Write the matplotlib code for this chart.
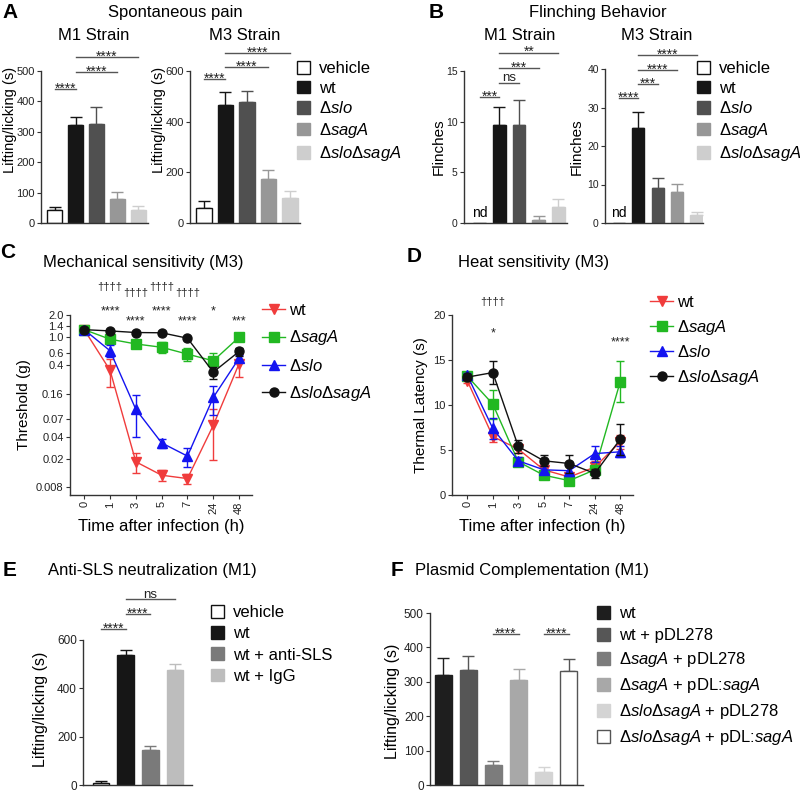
import numpy as np
import matplotlib
matplotlib.use("Agg")
import matplotlib.pyplot as plt
from matplotlib.patches import Patch
from matplotlib.lines import Line2D
from matplotlib.transforms import blended_transform_factory

plt.rcParams['font.family'] = ['Liberation Sans', 'DejaVu Sans']
plt.rcParams['mathtext.fontset'] = 'custom'
plt.rcParams['mathtext.rm'] = 'Liberation Sans'
plt.rcParams['mathtext.it'] = 'Liberation Sans:italic'
plt.rcParams['mathtext.bf'] = 'Liberation Sans:bold'

# ---- datos ----
strains = ['vehicle', 'wt', r'$\Delta\mathit{slo}$', r'$\Delta\mathit{sagA}$',
           r'$\Delta\mathit{slo}\Delta\mathit{sagA}$']

# A: dolor espontaneo (s)
a_m1_mean = [42, 323, 327, 80, 42]
a_m1_err = [10, 27, 56, 22, 15]
a_m3_mean = [60, 467, 477, 173, 100]
a_m3_err = [25, 51, 45, 37, 27]

# B: flinches
b_m1_mean = [0, 9.7, 9.7, 0.3, 1.6]
b_m1_err = [0, 1.7, 2.4, 0.4, 0.8]
b_m3_mean = [0, 24.7, 9.1, 8.0, 2.0]
b_m3_err = [0, 4.1, 2.6, 2.2, 0.8]

# C / D: series temporales
time_labels = ['0', '1', '3', '5', '7', '24', '48']
series_names = ['wt', r'$\Delta\mathit{sagA}$', r'$\Delta\mathit{slo}$',
                r'$\Delta\mathit{slo}\Delta\mathit{sagA}$']

c_wt = [1.25, 0.34, 0.018, 0.0117, 0.0105, 0.058, 0.42]
c_wt_err = [0.05, 0.14, 0.0055, 0.002, 0.0017, 0.039, 0.15]
c_sagA = [1.25, 0.92, 0.79, 0.71, 0.57, 0.46, 0.98]
c_sagA_err = [0.05, 0.08, 0.07, 0.12, 0.12, 0.14, 0.08]
c_slo = [1.25, 0.635, 0.097, 0.033, 0.0216, 0.142, 0.50]
c_slo_err = [0.05, 0.12, 0.057, 0.005, 0.0065, 0.06, 0.06]
c_dbl = [1.25, 1.2, 1.14, 1.13, 0.95, 0.32, 0.62]
c_dbl_err = [0.05, 0.05, 0.05, 0.05, 0.05, 0.06, 0.08]
c_yticks = [2.0, 1.4, 1.0, 0.6, 0.4, 0.16, 0.07, 0.04, 0.02, 0.008]
c_yticklabels = ['2.0', '1.4', '1.0', '0.6', '0.4', '0.16', '0.07', '0.04', '0.02', '0.008']
c_stars = ['', '****', '****', '****', '****', '*', '***']
c_daggers = ['', '††††', '††††', '††††', '††††', '', '']

d_wt = [12.7, 6.5, 5.1, 2.8, 2.0, 3.1, 5.9]
d_wt_err = [0.3, 0.6, 0.4, 0.4, 0.4, 0.7, 0.8]
d_sagA = [13.2, 10.1, 3.7, 2.2, 1.6, 2.8, 12.6]
d_sagA_err = [0.3, 1.6, 0.4, 0.3, 0.3, 0.4, 2.3]
d_slo = [13.3, 7.4, 3.8, 2.8, 2.7, 4.6, 4.8]
d_slo_err = [0.3, 1.2, 0.4, 0.4, 0.6, 0.9, 0.6]
d_dbl = [13.1, 13.6, 5.4, 3.8, 3.5, 2.4, 6.2]
d_dbl_err = [0.3, 1.3, 0.7, 0.6, 1.0, 0.5, 1.7]
d_stars = ['', '*', '', '', '', '', '****']
d_daggers = ['', '††††', '', '', '', '', '']

# E: anti-SLS
e_labels = ['vehicle', 'wt', 'wt + anti-SLS', 'wt + IgG']
e_mean = [10, 537, 143, 477]
e_err = [8, 20, 19, 23]

# F: complementacion
f_labels = ['wt', 'wt + pDL278', r'$\Delta\mathit{sagA}$ + pDL278',
            r'$\Delta\mathit{sagA}$ + pDL:$\mathit{sagA}$',
            r'$\Delta\mathit{slo}\Delta\mathit{sagA}$ + pDL278',
            r'$\Delta\mathit{slo}\Delta\mathit{sagA}$ + pDL:$\mathit{sagA}$']
f_mean = [320, 333, 58, 304, 37, 331]
f_err = [48, 41, 12, 33, 15, 36]

# comparaciones (i, j, altura, texto)
a_m1_sig = [(0, 1, 441, '****'), (1, 3, 497, '****'), (1, 4, 546, '****')]
a_m3_sig = [(0, 1, 568, '****'), (1, 3, 616, '****'), (1, 4, 671, '****')]
b_m1_sig = [(0, 1, 12.4, '***'), (1, 2, 13.8, 'ns'), (1, 3, 15.3, '***'), (1, 4, 16.8, '**')]
b_m3_sig = [(0, 1, 32.5, '****'), (1, 2, 36.1, '***'), (1, 3, 39.7, '****'), (1, 4, 43.6, '****')]
e_sig = [(0, 1, 644, '****'), (1, 2, 708, '****'), (1, 3, 768, 'ns')]
f_sig = [(2, 3, 438, '****'), (4, 5, 438, '****')]

# colores
col5 = ['white', '#161616', '#505050', '#979797', '#cecece']
edge5 = ['#111111', '#161616', '#505050', '#979797', '#cecece']
col_e = ['white', '#161616', '#7a7a7a', '#bdbdbd']
edge_e = ['#111111', '#161616', '#7a7a7a', '#bdbdbd']
col_f = ['#1e1e1e', '#565656', '#7c7c7c', '#a8a8a8', '#d4d4d4', 'white']
edge_f = ['#1e1e1e', '#565656', '#7c7c7c', '#a8a8a8', '#d4d4d4', '#555555']
line_cols = ['#f03c3c', '#22b822', '#1414f0', '#111111']
line_marks = ['v', 's', '^', 'o']

W, H = 800, 792
fig = plt.figure(figsize=(8, 7.92), dpi=100)


def rect(l, t, r, b):
    return [l / W, 1 - b / H, (r - l) / W, (b - t) / H]


def style(ax, ls=8):
    for s in ['top', 'right']:
        ax.spines[s].set_visible(False)
    for s in ['left', 'bottom']:
        ax.spines[s].set_color('#333333')
        ax.spines[s].set_linewidth(1.0)
    ax.tick_params(direction='out', length=3, width=0.8, labelsize=ls, pad=1.5, colors='#333333',
                   labelcolor='#222222')


def bars(ax, mean, err, cols, edges, width, xlim, ylim, yticks, ls=8):
    x = np.arange(len(mean))
    ax.bar(x, mean, width=width, color=cols, edgecolor=edges, linewidth=1.0, zorder=2)
    for xi, m, e, c in zip(x, mean, err, edges):
        if e > 0:
            ax.errorbar(xi, m, yerr=[[0], [e]], fmt='none', ecolor=c, elinewidth=1.0,
                        capsize=4.5, capthick=1.0, zorder=1)
    ax.set_xlim(*xlim)
    ax.set_ylim(*ylim)
    ax.set_yticks(yticks)
    ax.set_xticks([])
    style(ax, ls)


def sig(ax, comps, fs=10):
    for i, j, y, t in comps:
        ax.plot([i, j], [y, y], color='#555555', lw=1.0, clip_on=False)
        off = 1.2 if t == 'ns' else -2.5
        ax.annotate(t, xy=((i + j) / 2, y), xytext=(0, off), textcoords='offset points',
                    ha='center', va='baseline', fontsize=fs if t != 'ns' else 9.5,
                    color='#222222', annotation_clip=False)


def legend(handles, labels, x, y, spacing, hl=0.8, hh=0.8, pad=0.5):
    fig.legend(handles, labels, loc='upper left', bbox_to_anchor=(x / W, 1 - y / H),
               frameon=False, fontsize=12, handlelength=hl, handleheight=hh,
               handletextpad=pad, labelspacing=spacing, borderpad=0, borderaxespad=0)


def ftext(x, y, s, **kw):
    fig.text(x / W, 1 - y / H, s, **kw)


# ---- A ----
ax = fig.add_axes(rect(41, 71, 148, 223))
bars(ax, a_m1_mean, a_m1_err, col5, edge5, 0.72, (-0.67, 4.48), (0, 500), [0, 100, 200, 300, 400, 500])
sig(ax, a_m1_sig)
ax = fig.add_axes(rect(190, 71, 300, 223))
bars(ax, a_m3_mean, a_m3_err, col5, edge5, 0.72, (-0.65, 4.47), (0, 600), [0, 200, 400, 600])
sig(ax, a_m3_sig)
handles5 = [Patch(facecolor=c, edgecolor=e, linewidth=1.0) for c, e in zip(col5, edge5)]
legend(handles5, strains, 297, 61, 0.27)

ftext(2, 12, 'A', fontsize=15, fontweight='bold', va='center')
ftext(175, 13, 'Spontaneous pain', fontsize=12, ha='center', va='center')
ftext(94, 35, 'M1 Strain', fontsize=12, ha='center', va='center')
ftext(245, 35, 'M3 Strain', fontsize=12, ha='center', va='center')
ftext(10, 120, 'Lifting/licking (s)', fontsize=10.5, rotation=90, ha='center', va='center')
ftext(159, 120, 'Lifting/licking (s)', fontsize=10.5, rotation=90, ha='center', va='center')

# ---- B ----
ax = fig.add_axes(rect(464, 71, 567, 223))
bars(ax, b_m1_mean, b_m1_err, col5, edge5, 0.65, (-0.8, 4.45), (0, 15), [0, 5, 10, 15], ls=7.5)
sig(ax, b_m1_sig)
ax.annotate('nd', xy=(0, 0), xytext=(0, 2), textcoords='offset points', ha='center',
            va='bottom', fontsize=10)
ax = fig.add_axes(rect(605, 69, 703, 223))
bars(ax, b_m3_mean, b_m3_err, col5, edge5, 0.63, (-0.71, 4.33), (0, 40), [0, 10, 20, 30, 40], ls=7.5)
sig(ax, b_m3_sig)
ax.annotate('nd', xy=(0, 0), xytext=(0, 2), textcoords='offset points', ha='center',
            va='bottom', fontsize=10)
legend(handles5, strains, 697, 61, 0.27)

ftext(429, 12, 'B', fontsize=15, fontweight='bold', va='center')
ftext(598, 12, 'Flinching Behavior', fontsize=12, ha='center', va='center')
ftext(520, 35, 'M1 Strain', fontsize=12, ha='center', va='center')
ftext(657, 35, 'M3 Strain', fontsize=12, ha='center', va='center')
ftext(439, 147, 'Flinches', fontsize=11, rotation=90, ha='center', va='center')
ftext(577, 147, 'Flinches', fontsize=11, rotation=90, ha='center', va='center')


# ---- C / D ----
def timecourse(ax, means, errs):
    x = np.arange(len(time_labels))
    for k, (m, e) in enumerate(zip(means, errs)):
        ax.errorbar(x, m, yerr=e, color=line_cols[k], marker=line_marks[k], ms=6.5, lw=1.0,
                    elinewidth=1.0, capsize=3, capthick=1.0, zorder=3 + k, clip_on=False)
    ax.set_xticks(x)
    ax.set_xticklabels(time_labels, rotation=90)
    ax.set_xlim(-0.55, 6.5)
    style(ax)
    ax.set_xlabel('Time after infection (h)', fontsize=12, labelpad=4)


def annot(ax, labels, yfrac, fs):
    tr = blended_transform_factory(ax.transData, ax.transAxes)
    for i, t in enumerate(labels):
        if t:
            ax.text(i, yfrac[i], t, transform=tr, ha='center', va='center', fontsize=fs,
                    color='#222222', clip_on=False)


line_handles = [Line2D([0], [0], color=c, marker=m, ms=6.5, lw=1.0)
                for c, m in zip(line_cols, line_marks)]

ax = fig.add_axes(rect(70, 315, 252, 495))
timecourse(ax, [c_wt, c_sagA, c_slo, c_dbl], [c_wt_err, c_sagA_err, c_slo_err, c_dbl_err])
ax.set_yscale('log')
ax.set_ylim(0.0062, 2.0)
ax.set_yticks(c_yticks)
ax.set_yticklabels(c_yticklabels)
ax.minorticks_off()
ax.tick_params(axis='y', which='minor', left=False)
hi, lo = 1.022, 0.967
annot(ax, c_stars, [0, hi, lo, hi, lo, hi, lo], 9)
annot(ax, c_daggers, [0, 1.156, 1.122, 1.156, 1.122, 0, 0], 8)
ax.set_ylabel('Threshold (g)', fontsize=11, labelpad=4)
legend(line_handles, series_names, 262, 303, 0.62, hl=1.4, hh=0.7, pad=0.2)
ftext(0, 253, 'C', fontsize=15, fontweight='bold', va='center')
ftext(43, 263, 'Mechanical sensitivity (M3)', fontsize=12, va='center')

ax = fig.add_axes(rect(452, 315, 633, 495))
timecourse(ax, [d_wt, d_sagA, d_slo, d_dbl], [d_wt_err, d_sagA_err, d_slo_err, d_dbl_err])
ax.set_ylim(0, 20)
ax.set_yticks([0, 5, 10, 15, 20])
ax.set_xlim(-0.6, 6.5)
annot(ax, d_stars, [0, 0.9, 0, 0, 0, 0, 0.85], 9)
annot(ax, d_daggers, [0, 1.072, 0, 0, 0, 0, 0], 8)
ax.set_ylabel('Thermal Latency (s)', fontsize=11, labelpad=4)
legend(line_handles, series_names, 650, 295, 0.46, hl=1.4, hh=0.7, pad=0.2)
ftext(407, 257, 'D', fontsize=15, fontweight='bold', va='center')
ftext(458, 263, 'Heat sensitivity (M3)', fontsize=12, va='center')

# ---- E ----
ax = fig.add_axes(rect(83, 640, 192, 785))
bars(ax, e_mean, e_err, col_e, edge_e, 0.68, (-0.73, 3.69), (0, 600), [0, 200, 400, 600], ls=8.5)
sig(ax, e_sig)
handles_e = [Patch(facecolor=c, edgecolor=e, linewidth=1.0) for c, e in zip(col_e, edge_e)]
legend(handles_e, e_labels, 211, 605, 0.36)
ftext(3, 570, 'E', fontsize=15, fontweight='bold', va='center')
ftext(48, 570, 'Anti-SLS neutralization (M1)', fontsize=12, va='center')
ftext(40, 709, 'Lifting/licking (s)', fontsize=11.5, rotation=90, ha='center', va='center')

# ---- F ----
ax = fig.add_axes(rect(430, 613, 583, 785))
bars(ax, f_mean, f_err, col_f, edge_f, 0.67, (-0.52, 5.56), (0, 500), [0, 100, 200, 300, 400, 500],
     ls=8.5)
sig(ax, f_sig)
handles_f = [Patch(facecolor=c, edgecolor=e, linewidth=1.0) for c, e in zip(col_f, edge_f)]
legend(handles_f, f_labels, 597, 606, 0.42)
ftext(391, 570, 'F', fontsize=15, fontweight='bold', va='center')
ftext(415, 570, 'Plasmid Complementation (M1)', fontsize=12, va='center')
ftext(393, 701, 'Lifting/licking (s)', fontsize=11.5, rotation=90, ha='center', va='center')

fig.savefig('out.png', dpi=100)
